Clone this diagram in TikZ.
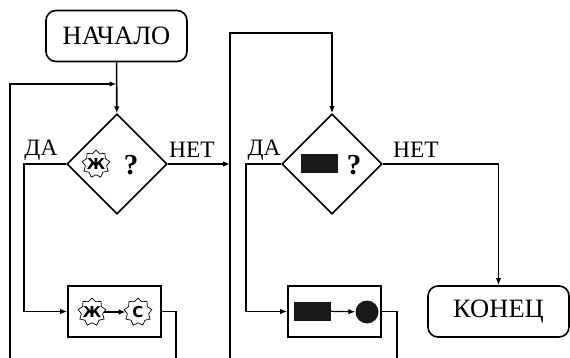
\documentclass[tikz,border=0pt]{standalone}
\usepackage{fontspec}
\setmainfont{Liberation Serif}
\newfontfamily\signfont{DejaVu Sans}
\usetikzlibrary{shapes.geometric,arrows.meta}

\tikzset{
	line/.style={line width=1.6pt, -{Latex[length=7pt,width=5.5pt]}},
	plain/.style={line width=1.6pt},
	endbox/.style={draw, line width=1.6pt, rounded corners=10pt, minimum width=141pt, minimum height=51pt, inner sep=0pt, font=\fontsize{26.5}{30}\selectfont},
	actbox/.style={draw, line width=1.6pt, minimum width=93pt, minimum height=51pt, inner sep=0pt},
	askbox/.style={draw, line width=1.6pt, diamond, minimum width=100pt, minimum height=100pt, inner sep=0pt},
	lbl/.style={font=\fontsize{23.5}{26}\selectfont, inner sep=0pt},
	sign/.style={draw, line width=0.7pt, star, star points=9, star point ratio=1.3, minimum size=28pt, inner sep=0pt},
	letter/.style={font=\signfont\bfseries\fontsize{15}{15}\selectfont, inner sep=0pt},
	ask/.style={font=\bfseries\fontsize{29}{29}\selectfont, inner sep=0pt},
	blk/.style={fill=black!90, minimum width=37pt, minimum height=19pt, inner sep=0pt}
}

\begin{document}
\begin{tikzpicture}[x=1pt, y=-1pt]
	\useasboundingbox (0,0) rectangle (570,358);

	\node[endbox] (start) at (116.5,36)  {НАЧАЛО};
	\node[askbox] (d1)    at (117,164)   {};
	\node[askbox] (d2)    at (332,164)   {};
	\node[actbox] (b1)    at (114.5,311.5) {};
	\node[actbox] (b2)    at (334.5,311.5) {};
	\node[endbox] (stop)  at (498.5,311.5) {КОНЕЦ};

	% contents of the first loop
	\node[sign] (s1) at (96,164)  {};
	\node[letter] at (s1) {Ж};
	\node[ask]  (q1) at (131,165) {?};
	\node[sign] (s2) at (92,312)  {};
	\node[letter] at (s2) {Ж};
	\node[sign] (s3) at (138,312) {};
	\node[letter] at (s3) {С};
	\draw[line, line width=1.2pt] (s2) -- (s3);

	% contents of the second loop
	\node[blk]  (r1) at (319.5,164) {};
	\node[ask]  (q2) at (354,165)   {?};
	\node[blk]  (r2) at (312.5,311) {};
	\node[circle, fill=black!90, minimum size=23pt, inner sep=0pt] (c2) at (367,312) {};
	\draw[line, line width=1.2pt] (r2) -- (c2);

	\node[lbl] (yes1) at (41,150)  {ДА};
	\node[lbl] (no1)  at (192,150) {НЕТ};
	\node[lbl] (yes2) at (264,150) {ДА};
	\node[lbl] (no2)  at (416,150) {НЕТ};

	\coordinate (in1)  at (10,358);
	\coordinate (j1)   at (116.5,84);
	\coordinate (out1) at (176,358);
	\coordinate (j2)   at (230,164);
	\coordinate (in2)  at (230,358);
	\coordinate (top2) at (332,33);
	\coordinate (out2) at (397,358);

	\draw[line]  (start) -- (d1);
	\draw[line]  (in1) |- (j1);
	\draw[line]  (d1.west) -- ++(-42,0) |- (b1.west);
	\draw[plain] (b1.east) -| (out1);
	\draw[line]  (d1.east) -- (j2);

	\draw[line]  (in2) |- (top2) -- (d2.north);
	\draw[line]  (d2.west) -- ++(-35,0) |- (b2.west);
	\draw[plain] (b2.east) -| (out2);
	\draw[line]  (d2.east) -| (stop.north);
\end{tikzpicture}
\end{document}
